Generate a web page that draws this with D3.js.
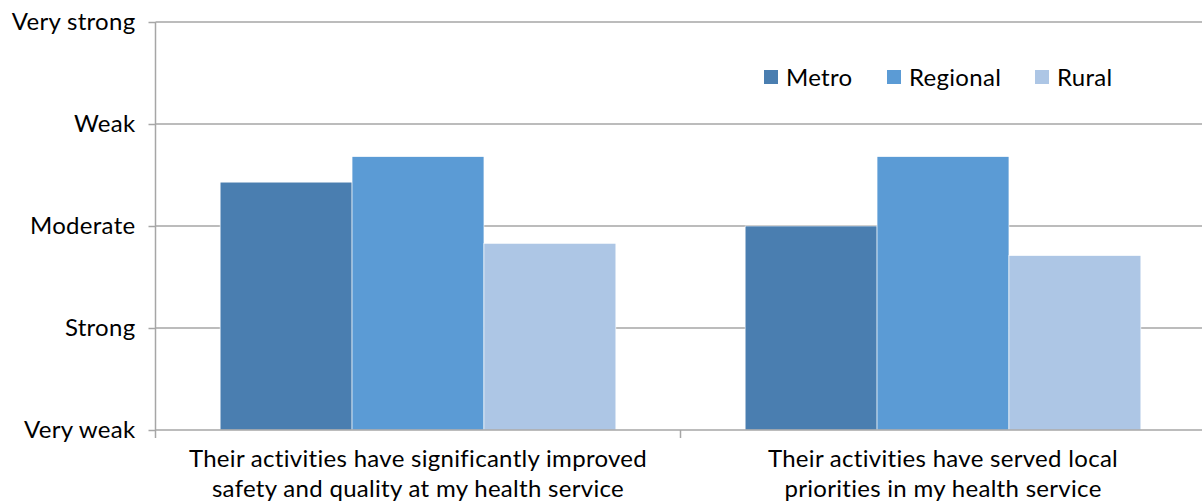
<!DOCTYPE html>
<html>
<head>
<meta charset="utf-8">
<script src="https://cdn.jsdelivr.net/npm/d3@7"></script>
<style>
  html, body { margin: 0; padding: 0; background: #fff; }
  svg { display: block; font-family: Lato, "Open Sans", "Liberation Sans", sans-serif; }
  .lbl { font-size: 24px; letter-spacing: 0.3px; fill: #000; }
</style>
</head>
<body>
<svg id="chart" width="1202" height="502"></svg>
<script>
// Survey ratings, coded 0 (Very weak) .. 4 (Very strong)
const categories = [
  ["Their activities have significantly improved", "safety and quality at my health service"],
  ["Their activities have served local", "priorities in my health service"]
];
const seriesNames = ["Metro", "Regional", "Rural"];
const metro = [2.43, 2.0];
const regional = [2.68, 2.68];
const rural = [1.83, 1.71];
const tickLabels = ["Very weak", "Strong", "Moderate", "Weak", "Very strong"];
const colors = ["#4a7eb0", "#5b9bd5", "#adc6e5"];

const seriesValues = [metro, regional, rural];

const svg = d3.select("#chart");
const plotLeft = 155.5, plotRight = 1205.5, plotTop = 22, plotBottom = 430;

const y = d3.scaleLinear().domain([0, 4]).range([plotBottom, plotTop]);
const x0 = d3.scaleBand().domain(d3.range(categories.length)).range([plotLeft, plotRight]).padding(0);
const x1 = d3.scaleBand().domain(seriesNames).range([0, x0.bandwidth()])
  .paddingInner(0).paddingOuter(0.49);
const color = d3.scaleOrdinal().domain(seriesNames).range(colors);

// Horizontal gridlines
svg.append("g")
  .selectAll("line")
  .data(d3.range(1, 5))
  .join("line")
  .attr("x1", plotLeft).attr("x2", plotRight)
  .attr("y1", d => y(d)).attr("y2", d => y(d))
  .attr("stroke", "#a6a6a6").attr("stroke-width", 1.5);

// Bars
const groups = svg.append("g")
  .selectAll("g")
  .data(categories.map((c, i) => i))
  .join("g")
  .attr("transform", i => `translate(${x0(i)},0)`);

groups.selectAll("rect")
  .data(i => seriesNames.map((s, k) => ({ s, v: seriesValues[k][i] })))
  .join("rect")
  .attr("x", d => x1(d.s))
  .attr("width", x1.bandwidth())
  .attr("y", d => y(d.v))
  .attr("height", d => y(0) - y(d.v))
  .attr("fill", d => color(d.s))
  .attr("stroke", "#ffffff").attr("stroke-width", 0.6);

// Y axis
const yAxis = d3.axisLeft(y)
  .tickValues(d3.range(0, 5))
  .tickSize(7)
  .tickPadding(13)
  .tickFormat(d => tickLabels[d]);
const ya = svg.append("g").attr("transform", `translate(${plotLeft},0)`).call(yAxis);
ya.attr("font-family", null).attr("font-size", null);
ya.select(".domain").attr("stroke", "#a6a6a6").attr("stroke-width", 1.5)
  .attr("d", `M0,${plotTop}V${plotBottom + 8}`);
ya.selectAll(".tick line").attr("stroke", "#a6a6a6").attr("stroke-width", 1.5);
ya.selectAll(".tick text").attr("class", "lbl").attr("fill", null);

// X axis baseline and category separators
svg.append("line")
  .attr("x1", plotLeft).attr("x2", plotRight)
  .attr("y1", plotBottom).attr("y2", plotBottom)
  .attr("stroke", "#a6a6a6").attr("stroke-width", 1.5);
svg.append("g")
  .selectAll("line")
  .data(d3.range(1, categories.length + 1))
  .join("line")
  .attr("x1", i => plotLeft + i * x0.step()).attr("x2", i => plotLeft + i * x0.step())
  .attr("y1", plotBottom).attr("y2", plotBottom + 8)
  .attr("stroke", "#a6a6a6").attr("stroke-width", 1.5);

// Category labels
const cl = svg.append("g")
  .selectAll("text")
  .data(categories)
  .join("text")
  .attr("class", "lbl")
  .attr("text-anchor", "middle")
  .attr("x", (d, i) => x0(i) + x0.bandwidth() / 2)
  .attr("y", 467);
cl.selectAll("tspan")
  .data(d => d)
  .join("tspan")
  .attr("x", function () { return this.parentNode.getAttribute("x"); })
  .attr("dy", (d, i) => i === 0 ? 0 : 30)
  .text(d => d);

// Legend
const legendX = [764, 887, 1035];
const legend = svg.append("g")
  .selectAll("g")
  .data(seriesNames)
  .join("g")
  .attr("transform", (d, i) => `translate(${legendX[i]},70)`);
legend.append("rect")
  .attr("width", 14).attr("height", 14)
  .attr("fill", d => color(d));
legend.append("text")
  .attr("class", "lbl")
  .attr("x", 22).attr("y", 16)
  .text(d => d);
</script>
</body>
</html>
